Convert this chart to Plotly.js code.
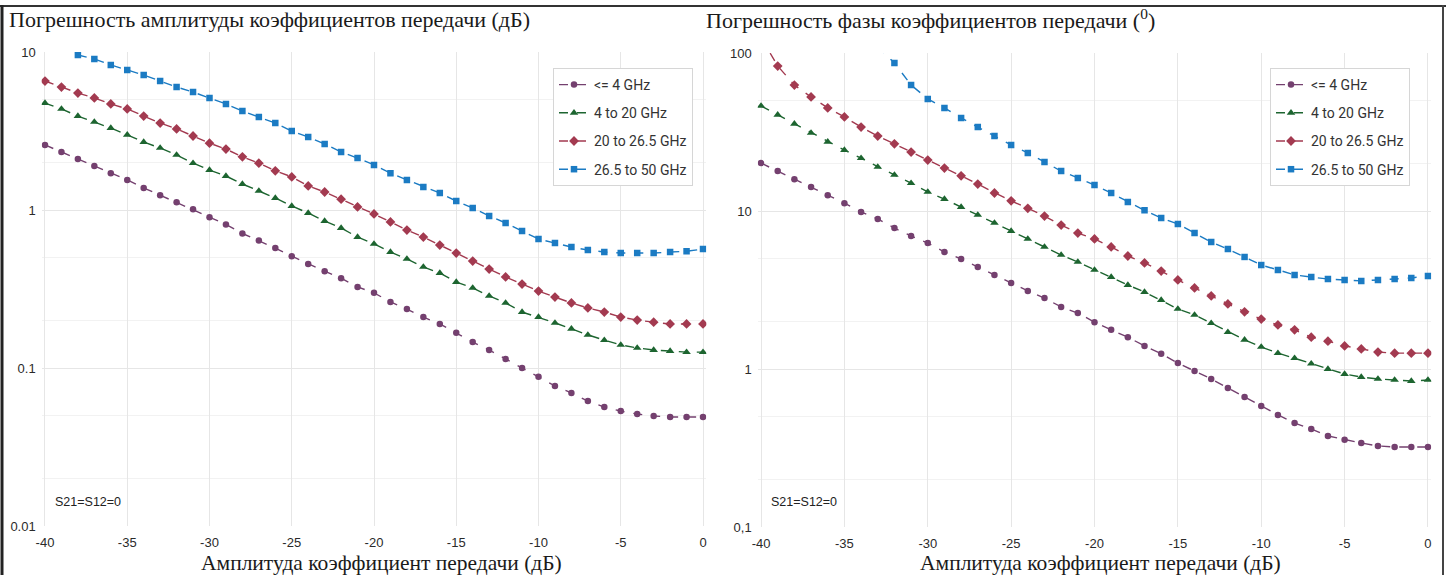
<!DOCTYPE html>
<html>
<head>
<meta charset="utf-8">
<script src="https://cdn.plot.ly/plotly-3.0.1.min.js"></script>
<style>html,body{margin:0;padding:0;background:#fff;}#chart{width:1446px;height:575px;}</style>
</head>
<body>
<div id="chart"></div>
<script>
// ---------- data ----------
const xdB = [-40,-39,-38,-37,-36,-35,-34,-33,-32,-31,-30,-29,-28,-27,-26,-25,-24,-23,-22,-21,-20,-19,-18,-17,-16,-15,-14,-13,-12,-11,-10,-9,-8,-7,-6,-5,-4,-3,-2,-1,0];

const seriesNames = ["&lt;= 4 GHz", "4 to 20 GHz", "20 to 26.5 GHz", "26.5 to 50 GHz"];

// Amplitude error (dB)
const ampLe4 = [2.58,2.33,2.10,1.90,1.71,1.55,1.38,1.24,1.12,1.01,0.90,0.81,0.71,0.64,0.574,0.51,0.455,0.41,0.37,0.326,0.299,0.262,0.236,0.210,0.190,0.167,0.146,0.130,0.114,0.100,0.088,0.077,0.0695,0.0618,0.0566,0.0534,0.0511,0.0497,0.049,0.049,0.049];
const amp4to20 = [4.75,4.36,3.93,3.61,3.30,2.99,2.69,2.47,2.23,1.98,1.79,1.64,1.46,1.32,1.19,1.06,0.957,0.851,0.769,0.674,0.610,0.542,0.490,0.436,0.399,0.350,0.321,0.286,0.258,0.226,0.210,0.193,0.177,0.162,0.150,0.140,0.134,0.130,0.128,0.126,0.126];
const amp20to26 = [6.55,6.0,5.5,5.12,4.69,4.36,3.93,3.55,3.26,2.94,2.65,2.43,2.17,1.98,1.77,1.62,1.42,1.30,1.17,1.045,0.944,0.84,0.747,0.674,0.600,0.534,0.475,0.423,0.377,0.340,0.307,0.281,0.258,0.240,0.226,0.210,0.201,0.195,0.190,0.190,0.190];
const amp26to50 = [null,null,9.57,9.03,8.28,7.69,7.15,6.55,6.0,5.58,5.12,4.69,4.23,3.88,3.55,3.16,2.90,2.62,2.33,2.13,1.93,1.71,1.55,1.40,1.28,1.14,1.03,0.917,0.828,0.736,0.655,0.618,0.583,0.558,0.542,0.534,0.534,0.534,0.542,0.548,0.566];

// Phase error (degrees)
const phLe4 = [20.1,17.9,15.9,14.2,12.6,11.2,9.86,8.90,7.80,6.95,6.27,5.50,4.97,4.42,3.94,3.50,3.12,2.81,2.47,2.26,1.98,1.77,1.59,1.40,1.25,1.09,0.971,0.865,0.759,0.665,0.583,0.512,0.455,0.417,0.377,0.356,0.340,0.326,0.321,0.321,0.321];
const ph4to20 = [46.2,40.6,35.6,31.2,27.4,24.3,21.6,19.0,16.9,15.0,13.2,11.9,10.6,9.44,8.40,7.47,6.65,5.92,5.27,4.76,4.24,3.82,3.40,3.07,2.73,2.40,2.20,1.95,1.71,1.53,1.38,1.26,1.17,1.08,1.0,0.929,0.889,0.865,0.852,0.839,0.852];
const ph20to26 = [125,82.7,62.7,52.7,44.9,39.4,34.0,29.8,26.6,23.6,21.0,18.7,16.7,14.8,13.0,11.6,10.4,9.29,8.15,7.25,6.65,5.92,5.19,4.69,4.17,3.66,3.26,2.90,2.58,2.30,2.07,1.90,1.77,1.59,1.50,1.40,1.34,1.28,1.26,1.26,1.26];
const ph26to50 = [null,null,null,null,null,null,null,110,86.4,62.7,51.2,44.9,38.8,34.0,29.8,26.2,23.3,20.4,17.9,16.2,14.6,13.0,11.4,10.1,9.03,8.28,7.25,6.36,5.74,5.12,4.55,4.24,3.94,3.82,3.71,3.66,3.61,3.66,3.71,3.77,3.88];

const ampTickVals = [0.01, 0.1, 1, 10];
const ampTickText = ["0.01", "0.1", "1", "10"];
const phTickVals = [0.1, 1, 10, 100];
const phTickText = ["0,1", "1", "10", "100"];
const xTickVals = [-40,-35,-30,-25,-20,-15,-10,-5,0];
const xTickText = ["-40","-35","-30","-25","-20","-15","-10","-5","0"];

const leftTitle = "Погрешность амплитуды коэффициентов передачи (дБ)";
const rightTitle = "Погрешность фазы коэффициентов передачи (<sup>0</sup>)";
const xTitle = "Амплитуда коэффициент передачи (дБ)";
const noteText = "S21=S12=0";

// ---------- styling ----------
const colors = ["#74406f", "#1d6530", "#a33a50", "#1b7bc3"];
const symbols = ["circle", "triangle-up", "diamond", "square"];
const msizes = [6.5, 7.5, 7.5, 6.5];

function mk(y, i, xa, ya, leg, grp) {
  return {
    type: "scatter", mode: "lines+markers",
    x: xdB, y: y, xaxis: xa, yaxis: ya,
    name: seriesNames[i], legend: leg, legendgroup: grp + i,
    line: {color: colors[i], width: 1.4, dash: "dash"},
    marker: {color: colors[i], symbol: symbols[i], size: msizes[i]},
    connectgaps: false
  };
}

const traces = [
  mk(ampLe4, 0, "x", "y", "legend", "a"),
  mk(amp4to20, 1, "x", "y", "legend", "a"),
  mk(amp20to26, 2, "x", "y", "legend", "a"),
  mk(amp26to50, 3, "x", "y", "legend", "a"),
  mk(phLe4, 0, "x2", "y2", "legend2", "b"),
  mk(ph4to20, 1, "x2", "y2", "legend2", "b"),
  mk(ph20to26, 2, "x2", "y2", "legend2", "b"),
  mk(ph26to50, 3, "x2", "y2", "legend2", "b")
];

const W = 1446, H = 575;
const px = v => v / W;
const py = v => (H - v) / H;

const tickFont = {family: "Liberation Sans, Arial, sans-serif", size: 13, color: "#2a2a2a"};
const gridC = "#e6e6e6";

function xax(d0, d1, anchor) {
  return {
    domain: [px(d0), px(d1)], range: [-40.2, 0.2], anchor: anchor,
    tickvals: xTickVals, ticktext: xTickText, ticks: "", showline: false,
    showgrid: true, gridcolor: gridC, gridwidth: 1, zeroline: false,
    tickfont: tickFont, ticklabelstandoff: 7, fixedrange: true
  };
}
function yax(d0, d1, rng, tv, tt, anchor) {
  return {
    type: "log", domain: [py(d1), py(d0)], range: rng, anchor: anchor,
    tickvals: tv, ticktext: tt, ticks: "", showline: false,
    showgrid: true, gridcolor: gridC, gridwidth: 1, zeroline: false,
    minor: {showgrid: true, gridcolor: "#f2f2f2", dtick: "D2", ticks: ""},
    tickfont: tickFont, ticklabelstandoff: 5, fixedrange: true
  };
}

const legendBase = {
  xanchor: "left", yanchor: "top",
  bgcolor: "#ffffff", bordercolor: "#d6d6d6", borderwidth: 1,
  font: {family: "Roboto, Liberation Sans, sans-serif", size: 14, color: "#333"},
  traceorder: "grouped", tracegroupgap: 7, itemwidth: 30
};

const titleFont = {family: "Liberation Serif, Times New Roman, serif", size: 22, color: "#1a1a1a"};
const xTitleFont = {family: "Liberation Serif, Times New Roman, serif", size: 21.5, color: "#1a1a1a"};

const layout = {
  width: W, height: H,
  margin: {l: 0, r: 0, t: 0, b: 0},
  paper_bgcolor: "#ffffff", plot_bgcolor: "#ffffff",
  showlegend: true,
  xaxis: xax(41.7, 706.3, "y"),
  yaxis: yax(52, 526, [-2, 1], ampTickVals, ampTickText, "x"),
  xaxis2: xax(757.7, 1431.3, "y2"),
  yaxis2: yax(53, 527, [-1, 2], phTickVals, phTickText, "x2"),
  legend: Object.assign({x: px(553), y: py(68)}, legendBase),
  legend2: Object.assign({x: px(1270), y: py(68)}, legendBase),
  annotations: [
    {text: leftTitle, xref: "paper", yref: "paper", x: px(7), y: py(19), xanchor: "left", yanchor: "middle", showarrow: false, font: titleFont},
    {text: rightTitle, xref: "paper", yref: "paper", x: px(704), y: py(19), xanchor: "left", yanchor: "middle", showarrow: false, font: titleFont},
    {text: xTitle, xref: "paper", yref: "paper", x: px(381), y: py(563), xanchor: "center", yanchor: "middle", showarrow: false, font: xTitleFont},
    {text: xTitle, xref: "paper", yref: "paper", x: px(1100), y: py(563), xanchor: "center", yanchor: "middle", showarrow: false, font: xTitleFont},
    {text: noteText, xref: "paper", yref: "paper", x: px(88), y: py(502), xanchor: "center", yanchor: "middle", showarrow: false, font: {family: "Liberation Sans, Arial, sans-serif", size: 12.5, color: "#222"}},
    {text: noteText, xref: "paper", yref: "paper", x: px(804), y: py(502), xanchor: "center", yanchor: "middle", showarrow: false, font: {family: "Liberation Sans, Arial, sans-serif", size: 12.5, color: "#222"}}
  ],
  shapes: [
    {type: "line", xref: "paper", yref: "paper", x0: 0, x1: 1, y0: py(6), y1: py(6), line: {color: "#333", width: 2}},
    {type: "line", xref: "paper", yref: "paper", x0: px(2), x1: px(2), y0: py(5), y1: 0, line: {color: "#222", width: 3}},
    {type: "line", xref: "paper", yref: "paper", x0: px(1443), x1: px(1443), y0: py(5), y1: 0, line: {color: "#444", width: 2}}
  ]
};

Plotly.newPlot("chart", traces, layout, {staticPlot: true, displayModeBar: false});
</script>
</body>
</html>
